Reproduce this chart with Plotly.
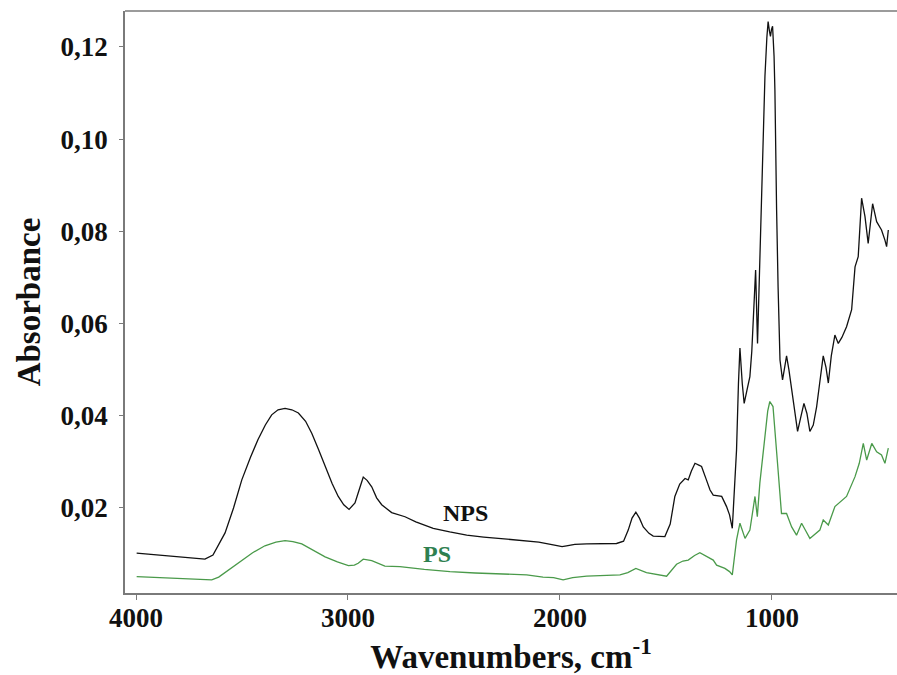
import plotly.graph_objects as go

# NPS spectrum (wavenumber, absorbance)
nps_x = [3997, 3900, 3800, 3720, 3675, 3637, 3580, 3540, 3501, 3460, 3425, 3390, 3360, 3330, 3297,
         3265, 3234, 3200, 3171, 3140, 3108, 3075, 3046, 3020, 2995, 2967, 2940, 2928, 2910, 2888,
         2865, 2841, 2794, 2731, 2680, 2598, 2520, 2440, 2360, 2283, 2220, 2157, 2100, 2032, 1990,
         1969, 1930, 1874, 1800, 1733, 1700, 1678, 1660, 1642, 1625, 1607, 1580, 1560, 1505, 1480,
         1458, 1435, 1410, 1395, 1380, 1363, 1345, 1332, 1310, 1292, 1277, 1260, 1237, 1214, 1200,
         1187, 1175, 1167, 1158, 1151, 1140, 1131, 1118, 1104, 1095, 1088, 1077, 1068, 1057, 1052,
         1041, 1033, 1024, 1018, 1012, 1007, 1002, 997, 990, 986, 978, 974, 971, 962, 950,
         940, 931, 920, 907, 893, 879, 865, 849, 835, 821, 805, 789, 775, 758, 745,
         734, 720, 703, 687, 670, 648, 624, 608, 593, 577, 561, 546, 535, 525, 506,
         493, 483, 467, 459, 451]
nps_y = [0.0102, 0.0098, 0.0095, 0.0091, 0.0089, 0.0098, 0.0146, 0.0200, 0.0261, 0.0310, 0.0348, 0.0380, 0.0402, 0.0413, 0.0416,
         0.0413, 0.0406, 0.0388, 0.0362, 0.0328, 0.0290, 0.0253, 0.0225, 0.0207, 0.0197, 0.0211, 0.0250, 0.0267, 0.0260, 0.0246,
         0.0222, 0.0207, 0.0190, 0.0181, 0.0170, 0.0156, 0.0148, 0.0141, 0.0137, 0.0134, 0.0131, 0.0129, 0.0126, 0.0120, 0.0116,
         0.0118, 0.0121, 0.0122, 0.0123, 0.0123, 0.0128, 0.0152, 0.0178, 0.0191, 0.0178, 0.0159, 0.0145, 0.0139, 0.0138, 0.0165,
         0.0225, 0.0252, 0.0264, 0.0261, 0.0280, 0.0297, 0.0293, 0.0290, 0.0262, 0.0239, 0.0228, 0.0227, 0.0225, 0.0203, 0.0185,
         0.0156, 0.0260, 0.0326, 0.0470, 0.0547, 0.0470, 0.0427, 0.0455, 0.0485, 0.0540, 0.0608, 0.0716, 0.0557, 0.0745, 0.0775,
         0.0990, 0.1136, 0.1220, 0.1255, 0.1235, 0.1223, 0.1238, 0.1245, 0.1180, 0.1107, 0.0847, 0.0738, 0.0680, 0.0521, 0.0478,
         0.0505, 0.0530, 0.0500, 0.0456, 0.0405, 0.0366, 0.0395, 0.0427, 0.0405, 0.0366, 0.0380, 0.0420, 0.0470, 0.0530, 0.0505,
         0.0471, 0.0530, 0.0575, 0.0557, 0.0570, 0.0593, 0.0630, 0.0723, 0.0745, 0.0872, 0.0832, 0.0774, 0.0820, 0.0860, 0.0821,
         0.0812, 0.0803, 0.0781, 0.0767, 0.0803]

# PS spectrum (wavenumber, absorbance)
ps_x = [3997, 3900, 3816, 3720, 3643, 3610, 3580, 3540, 3501, 3450, 3392, 3340, 3297, 3260, 3218,
        3160, 3108, 3050, 2998, 2970, 2952, 2928, 2888, 2826, 2755, 2640, 2519, 2400, 2283, 2157,
        2080, 2030, 1985, 1940, 1874, 1800, 1717, 1680, 1642, 1592, 1540, 1497, 1450, 1420, 1395,
        1365, 1340, 1310, 1277, 1261, 1222, 1200, 1187, 1167, 1151, 1127, 1104, 1080, 1069, 1057,
        1033, 1020, 1010, 995, 971, 955, 931, 907, 884, 860, 840, 821, 774, 758, 734,
        703, 648, 608, 588, 569, 553, 529, 506, 483, 467, 451]
ps_y = [0.0051, 0.0049, 0.0047, 0.0046, 0.0044, 0.0050, 0.0060, 0.0072, 0.0087, 0.0103, 0.0118, 0.0126, 0.0129, 0.0127, 0.0122,
        0.0108, 0.0094, 0.0083, 0.0075, 0.0076, 0.0080, 0.0089, 0.0086, 0.0074, 0.0073, 0.0067, 0.0062, 0.0059, 0.0057, 0.0055,
        0.0050, 0.0049, 0.0044, 0.0049, 0.0052, 0.0054, 0.0055, 0.0060, 0.0069, 0.0060, 0.0055, 0.0052, 0.0078, 0.0085, 0.0087,
        0.0097, 0.0103, 0.0095, 0.0087, 0.0076, 0.0069, 0.0062, 0.0055, 0.0131, 0.0167, 0.0134, 0.0152, 0.0225, 0.0181, 0.0254,
        0.0355, 0.0410, 0.0431, 0.0420, 0.0282, 0.0188, 0.0188, 0.0159, 0.0141, 0.0167, 0.0150, 0.0134, 0.0152, 0.0174, 0.0163,
        0.0203, 0.0225, 0.0268, 0.0297, 0.0340, 0.0304, 0.0340, 0.0322, 0.0315, 0.0297, 0.0330]

x_ticks = [4000, 3000, 2000, 1000]
y_ticks = [0.02, 0.04, 0.06, 0.08, 0.10, 0.12]

FONT = "Liberation Serif"
AXIS_COL = "#7a7a7a"

fig = go.Figure()
fig.add_trace(go.Scatter(x=nps_x, y=nps_y, mode="lines", name="NPS",
                         line=dict(color="#111111", width=1.3)))
fig.add_trace(go.Scatter(x=ps_x, y=ps_y, mode="lines", name="PS",
                         line=dict(color="#4a9a4a", width=1.3)))

fig.add_annotation(x=2448, y=0.0189, xref="x", yref="y", text="NPS", showarrow=False,
                   font=dict(family=FONT, size=24, color="#111111", weight="bold"))
fig.add_annotation(x=2580, y=0.0100, xref="x", yref="y", text="PS", showarrow=False,
                   font=dict(family=FONT, size=24, color="#2e8050", weight="bold"))

# top frame line
fig.add_shape(type="line", xref="paper", yref="paper", x0=0, x1=1, y0=1, y1=1,
              line=dict(color=AXIS_COL, width=1.5))

fig.update_layout(
    width=897, height=675,
    margin=dict(l=125, r=0, t=11, b=82),
    paper_bgcolor="white", plot_bgcolor="white",
    showlegend=False,
    separators=",.",
    xaxis=dict(range=[4052, 410], tickvals=x_ticks, ticktext=[str(v) for v in x_ticks],
               showline=True, linecolor=AXIS_COL, linewidth=1.5, showgrid=False, zeroline=False,
               ticks="outside", ticklen=5, tickcolor=AXIS_COL, ticklabelstandoff=-5,
               tickfont=dict(family=FONT, size=27, color="#111111", weight="bold"),
               title=dict(text="Wavenumbers, cm<sup>-1</sup>", standoff=19,
                          font=dict(family=FONT, size=33, color="#111111", weight="bold"))),
    yaxis=dict(range=[0.00156, 0.1278], tickvals=y_ticks, tickformat=".2f",
               showline=True, linecolor=AXIS_COL, linewidth=1.5, showgrid=False, zeroline=False,
               ticks="outside", ticklen=4, tickcolor=AXIS_COL, ticklabelstandoff=6,
               tickfont=dict(family=FONT, size=27, color="#111111", weight="bold"),
               title=dict(text="Absorbance", standoff=10,
                          font=dict(family=FONT, size=33, color="#111111", weight="bold"))),
)

fig.write_html("out.html")
